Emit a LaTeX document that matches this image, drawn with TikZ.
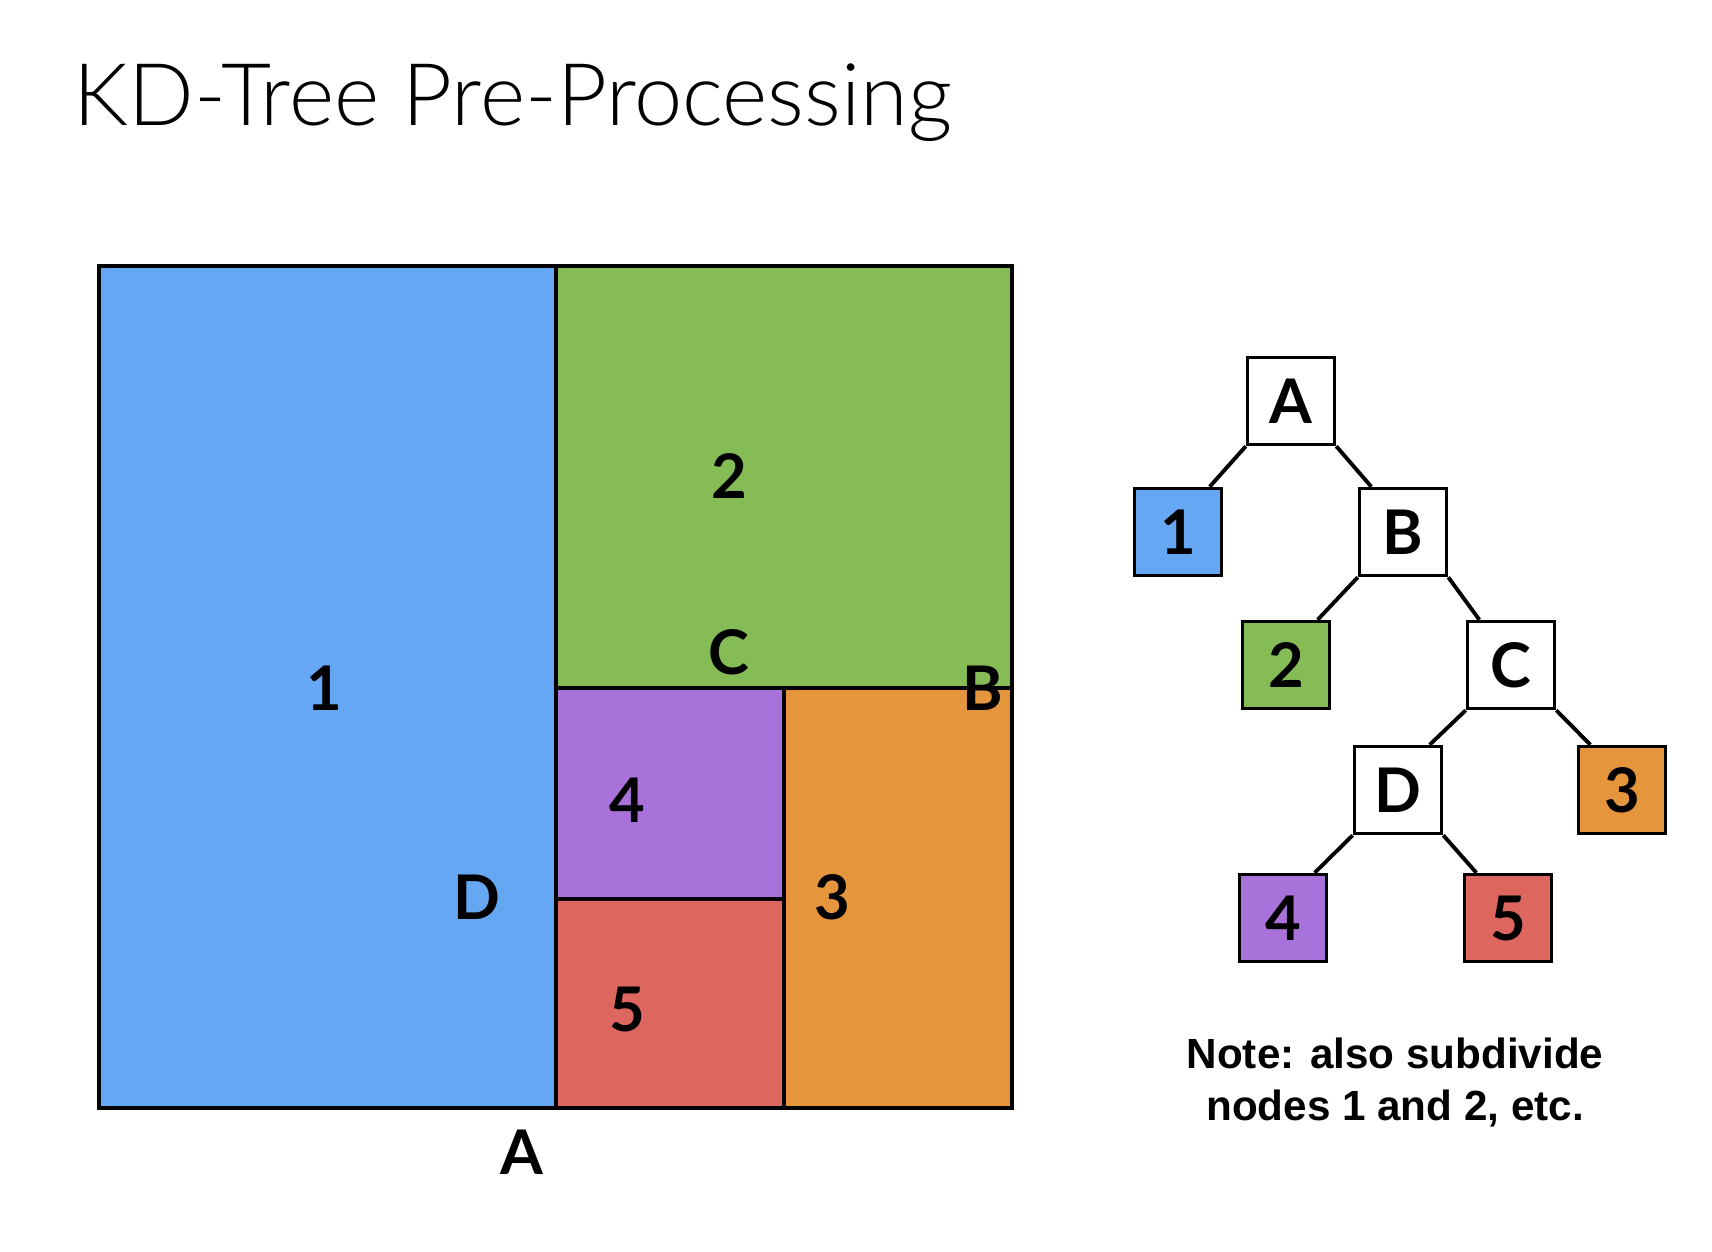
\documentclass[tikz,border=0pt]{standalone}
\usepackage{fontspec}
\setmainfont{Lato}
\newfontfamily\titlefont{Lato Light}
\newfontfamily\notefont{Liberation Sans}
\usetikzlibrary{calc}
\definecolor{cblue}{HTML}{65A7F3}
\definecolor{cgreen}{HTML}{85BC56}
\definecolor{cpurple}{HTML}{A872DA}
\definecolor{cred}{HTML}{DD675F}
\definecolor{corange}{HTML}{E5953B}
\tikzset{
  region/.style={draw=black, line width=0.95pt},
  lbl/.style={font=\fontsize{17.5}{20}\selectfont\bfseries, inner sep=0pt},
  tbox/.style={draw=black, line width=1pt, minimum size=0.87cm, inner sep=0pt, font=\fontsize{17.5}{20}\selectfont\bfseries, fill=white},
  edge/.style={line width=1.1pt},
}
\begin{document}
\begin{tikzpicture}[x=0.01cm, y=-0.01cm]
\useasboundingbox (0,0) rectangle (1712,1252);
% title
\node[anchor=base west, inner sep=0pt, font=\titlefont\fontsize{24.6}{30}\selectfont] (title) at (73,126) {KD-Tree Pre-Processing};
% regions
\draw[region, fill=cblue]   (99,266) rectangle (556,1108);
\draw[region, fill=cgreen]  (556,266) rectangle (1012,688);
\draw[region, fill=cpurple] (556,688) rectangle (784,899);
\draw[region, fill=cred]    (556,899) rectangle (784,1108);
\draw[region, fill=corange] (784,688) rectangle (1012,1108);
% region labels
\node[lbl] (r1) at (324,688) {1};
\node[lbl] (r2) at (729,476) {2};
\node[lbl] (rC) at (729,652) {C};
\node[lbl] (rB) at (983,688) {B};
\node[lbl] (r4) at (627,800) {4};
\node[lbl] (rD) at (477,897) {D};
\node[lbl] (r3) at (832,897) {3};
\node[lbl] (r5) at (627,1009) {5};
\node[lbl] (rA) at (522,1152) {A};
% tree
\node[tbox] (tA) at (1291,401) {A};
\node[tbox, fill=cblue] (t1) at (1178,532) {1};
\node[tbox] (tB) at (1403,532) {B};
\node[tbox, fill=cgreen] (t2) at (1286,665) {2};
\node[tbox] (tC) at (1511,665) {C};
\node[tbox] (tD) at (1398,790) {D};
\node[tbox, fill=corange] (t3) at (1622,790) {3};
\node[tbox, fill=cpurple] (t4) at (1283,918) {4};
\node[tbox, fill=cred] (t5) at (1508,918) {5};
\draw[edge] (tA.south west) -- ($(t1.north east)!0.3!(t1.north)$);
\draw[edge] (tA.south east) -- ($(tB.north west)!0.3!(tB.north)$);
\draw[edge] (tB.south west) -- ($(t2.north east)!0.3!(t2.north)$);
\draw[edge] (tB.south east) -- ($(tC.north west)!0.3!(tC.north)$);
\draw[edge] (tC.south west) -- ($(tD.north east)!0.3!(tD.north)$);
\draw[edge] (tC.south east) -- ($(t3.north west)!0.3!(t3.north)$);
\draw[edge] (tD.south west) -- ($(t4.north east)!0.3!(t4.north)$);
\draw[edge] (tD.south east) -- ($(t5.north west)!0.3!(t5.north)$);
% note
\node[align=center, inner sep=0pt, font=\notefont\bfseries\fontsize{12}{14.8}\selectfont] (note) at (1395,1082) {Note: also subdivide\\nodes 1 and 2, etc.};
\end{tikzpicture}
\end{document}
